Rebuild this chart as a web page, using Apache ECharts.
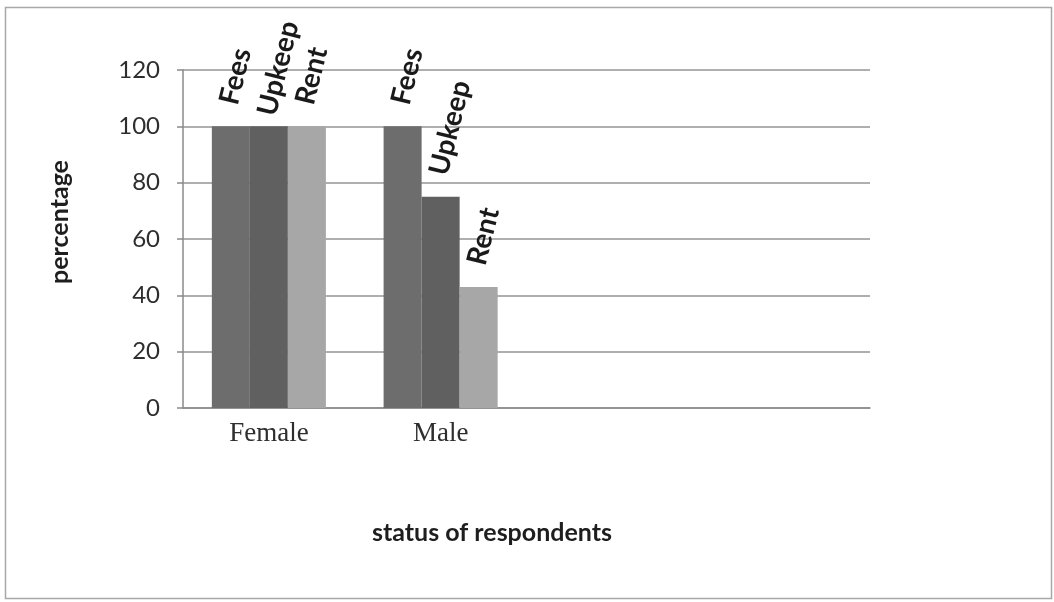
<!DOCTYPE html>
<html>
<head>
<meta charset="utf-8">
<style>
  html, body { margin: 0; padding: 0; background: #ffffff; }
  #chart { width: 1054px; height: 602px; }
</style>
<script src="https://cdn.jsdelivr.net/npm/echarts@6/dist/echarts.min.js"></script>
</head>
<body>
<div id="chart"></div>
<script>
// Respondent groups (two trailing empty slots keep the original axis spacing)
const categories = ['Female', 'Male', '', ''];
const seriesNames = ['Fees', 'Upkeep', 'Rent'];
const fees   = [100, 100, null, null];
const upkeep = [100, 75, null, null];
const rent   = [100, 43, null, null];
const yTicks = [0, 20, 40, 60, 80, 100, 120];

const seriesValues = [fees, upkeep, rent];
const barColors = ['#6d6d6d', '#606060', '#a7a7a7'];

const sansFont = 'Lato, "Open Sans", sans-serif';
const textColor = '#2e2e2e';

// Default gap between a bar top and its name label; the tall middle label
// of the Female group sits a little closer so it stays inside the canvas.
const labelDistance = 31;
const tightLabel = { series: 'Upkeep', category: 'Female', distance: 20 };

const chart = echarts.init(document.getElementById('chart'), null, { renderer: 'canvas' });

const series = seriesNames.map((name, i) => ({
  name: name,
  type: 'bar',
  data: seriesValues[i].map((v, j) => {
    const item = { value: v };
    if (name === tightLabel.series && categories[j] === tightLabel.category) {
      item.label = { distance: tightLabel.distance };
    }
    return item;
  }),
  itemStyle: { color: barColors[i] },
  barGap: '0%',
  barCategoryGap: '33.6%',
  label: {
    show: true,
    position: 'top',
    distance: labelDistance,
    rotate: 76,
    align: 'left',
    verticalAlign: 'middle',
    offset: [-9, 0],
    formatter: () => name,
    fontFamily: sansFont,
    fontWeight: 'bold',
    fontSize: 28,
    color: '#1a1a1a'
  }
}));

chart.setOption({
  animation: false,
  backgroundColor: '#ffffff',
  grid: { left: 183, right: 184, top: 70, bottom: 194, containLabel: false },
  xAxis: {
    type: 'category',
    data: categories,
    axisLine: { show: true, lineStyle: { color: '#8a8a8a', width: 1.5 } },
    axisTick: { show: false },
    axisLabel: {
      margin: 12,
      fontFamily: '"Liberation Serif", "Times New Roman", serif',
      fontSize: 27,
      color: textColor
    }
  },
  yAxis: {
    type: 'value',
    min: yTicks[0],
    max: yTicks[yTicks.length - 1],
    interval: yTicks[1] - yTicks[0],
    axisLine: { show: true, lineStyle: { color: '#8a8a8a', width: 1.5 } },
    axisTick: { show: true, inside: false, length: 6, lineStyle: { color: '#8a8a8a', width: 1.5 } },
    splitLine: { show: true, lineStyle: { color: '#959595', width: 1.5 } },
    axisLabel: {
      margin: 23,
      fontFamily: sansFont,
      fontSize: 24,
      color: textColor
    }
  },
  series: series,
  graphic: [
    {
      type: 'rect',
      shape: { x: 5.5, y: 7.5, width: 1046, height: 591 },
      style: { fill: 'none', stroke: '#a8a8a8', lineWidth: 1.5 },
      silent: true
    },
    {
      type: 'text',
      x: 60, y: 222,
      rotation: Math.PI / 2,
      style: {
        text: 'percentage',
        fontFamily: sansFont,
        fontWeight: 'bold',
        fontSize: 25,
        fill: '#1e1e1e',
        align: 'center',
        verticalAlign: 'middle'
      }
    },
    {
      type: 'text',
      x: 492, y: 533,
      style: {
        text: 'status of respondents',
        fontFamily: sansFont,
        fontWeight: 'bold',
        fontSize: 25,
        fill: '#1e1e1e',
        align: 'center',
        verticalAlign: 'middle'
      }
    }
  ]
});
</script>
</body>
</html>
